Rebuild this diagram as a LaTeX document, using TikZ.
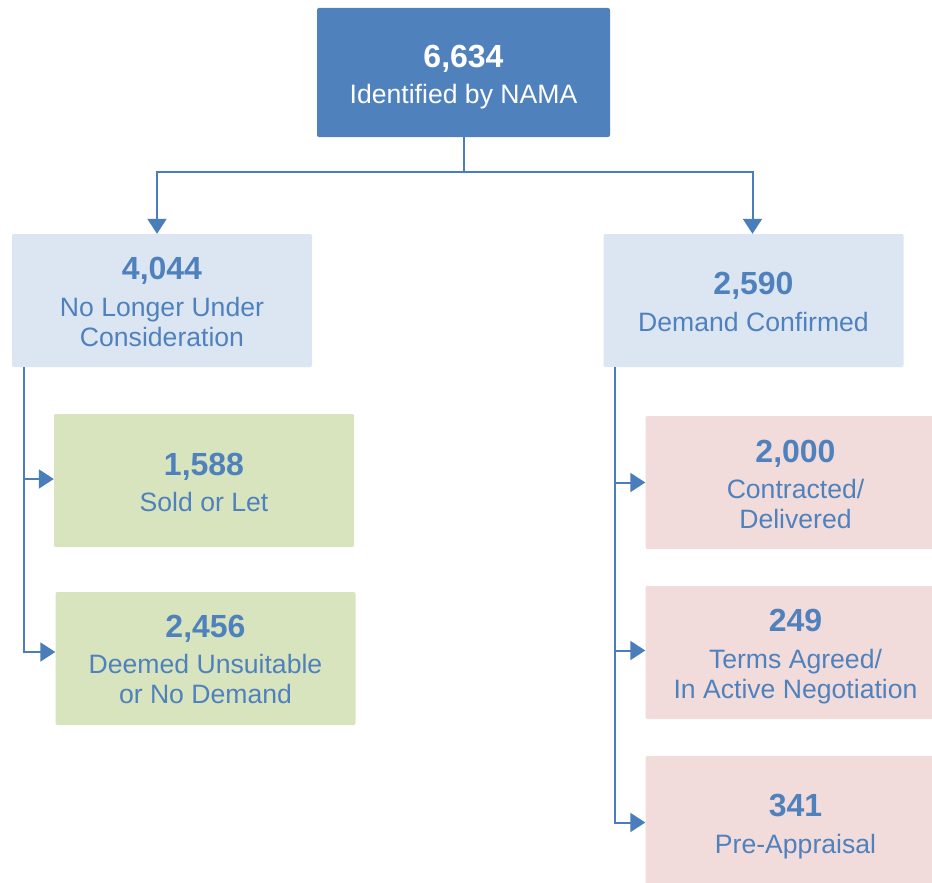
\documentclass[tikz,border=0pt]{standalone}
\usepackage{fontspec}
\setmainfont{Liberation Sans}
\usetikzlibrary{arrows.meta,calc}
\definecolor{topblue}{HTML}{4F81BD}
\definecolor{txtblue}{HTML}{4F81BD}
\definecolor{lineblue}{HTML}{4A7EBB}
\definecolor{lightblue}{HTML}{DCE6F2}
\definecolor{lightgreen}{HTML}{D7E4BD}
\definecolor{lightpink}{HTML}{F2DCDB}
\begin{document}
\begin{tikzpicture}[x=1pt,y=-1pt,
  box/.style={rectangle, rounded corners=2pt, minimum width=300pt, minimum height=133pt, inner sep=0pt, draw=none},
  topbox/.style={box, fill=topblue, minimum width=293pt, minimum height=129pt},
  bluebox/.style={box, fill=lightblue},
  greenbox/.style={box, fill=lightgreen},
  pinkbox/.style={box, fill=lightpink},
  num/.style={font=\fontsize{32}{36}\selectfont\bfseries, anchor=base, inner sep=0pt, text=txtblue},
  lbl/.style={font=\fontsize{26.6}{30}\selectfont, anchor=base, inner sep=0pt, text=txtblue},
  conn/.style={draw=lineblue, line width=2pt},
  arrowc/.style={conn, -{Triangle[length=15pt,width=19pt]}}
]
\useasboundingbox (0,0) rectangle (932,883);
\fill[white] (0,0) rectangle (932,883);

% boxes
\node[topbox] (top) at (463.5,72.5) {};
\node[bluebox] (L1) at (162,300.5) {};
\node[bluebox] (R1) at (753.5,300.5) {};
\node[greenbox] (G1) at (204,480.5) {};
\node[greenbox] (G2) at (205.5,658.5) {};
\node[pinkbox] (P1) at (795.5,482.5) {};
\node[pinkbox] (P2) at (795.5,652.5) {};
\node[pinkbox] (P3) at (795.5,822.5) {};

% texts
\node[num, text=white] (topn) at (463.5,67) {6,634};
\node[lbl, text=white] (topt) at (463.5,103) {Identified by NAMA};

\node[num] (L1n) at (162,279.5) {4,044};
\node[lbl] (L1t) at (162,316) {No Longer Under};
\node[lbl] (L1u) at (162,346) {Consideration};

\node[num] (R1n) at (753.5,294.5) {2,590};
\node[lbl] (R1t) at (753.5,331) {Demand Confirmed};

\node[num] (G1n) at (204,475) {1,588};
\node[lbl] (G1t) at (204,511.5) {Sold or Let};

\node[num] (G2n) at (205.5,637) {2,456};
\node[lbl] (G2t) at (205.5,673) {Deemed Unsuitable};
\node[lbl] (G2u) at (205.5,703) {or No Demand};

\node[num] (P1n) at (795.5,462) {2,000};
\node[lbl] (P1t) at (795.5,498.5) {Contracted/};
\node[lbl] (P1u) at (795.5,528.5) {Delivered};

\node[num] (P2n) at (795.5,631.5) {249};
\node[lbl] (P2t) at (795.5,668) {Terms Agreed/};
\node[lbl] (P2u) at (795.5,698) {In Active Negotiation};

\node[num] (P3n) at (795.5,816.5) {341};
\node[lbl] (P3t) at (795.5,853) {Pre-Appraisal};

% connectors
\coordinate (j) at (463.5,172);
\draw[conn] (top.south) -- (j);
\draw[arrowc] (j) -| ([xshift=-5pt]L1.north);
\draw[arrowc] (j) -| ([xshift=-1pt]R1.north);

\coordinate (lv) at ([xshift=12pt]L1.south west);
\draw[arrowc] (lv) |- ([yshift=6.5pt]G2.west);
\draw[arrowc] ([yshift=1.5pt]lv |- G1.west) -- ([yshift=1.5pt]G1.west);

\coordinate (rv) at ([xshift=11.5pt]R1.south west);
\draw[arrowc] (rv) |- (P3.west);
\draw[arrowc] (rv |- P1.west) -- (P1.west);
\draw[arrowc] ([yshift=2pt]rv |- P2.west) -- ([yshift=2pt]P2.west);
\end{tikzpicture}
\end{document}
